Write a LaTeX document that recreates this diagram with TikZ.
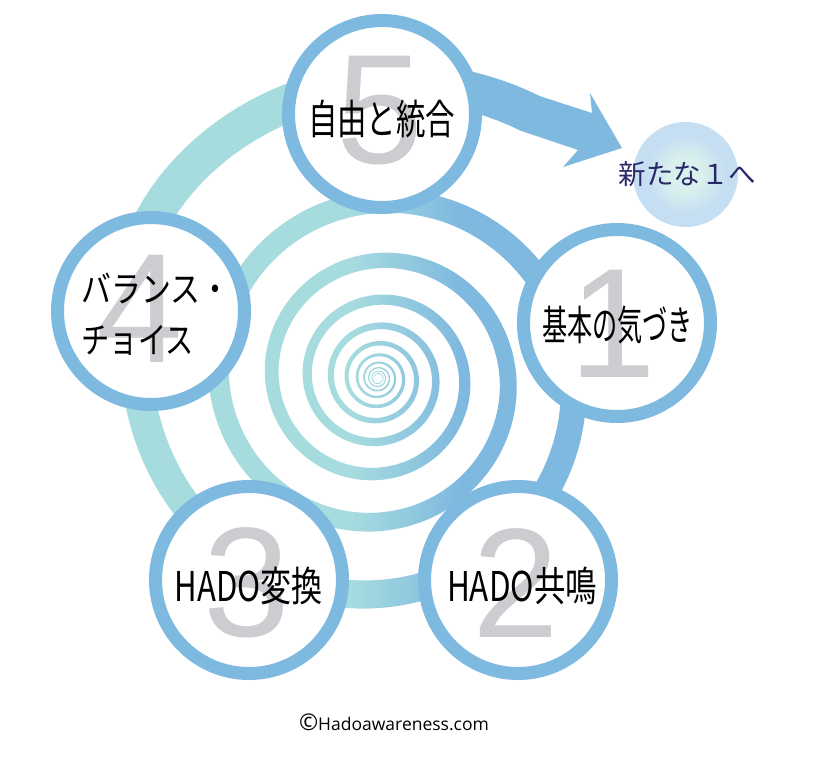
\documentclass[tikz,border=0pt]{standalone}
\usepackage{graphicx}
\usepackage{fontspec}
\setmainfont{Liberation Sans}
\newfontfamily\jpfont{Noto Sans CJK JP}
\newfontfamily\webfont{Open Sans}
\definecolor{ringblue}{HTML}{7EB9DF}
\definecolor{spiralteal}{HTML}{A7DCDF}
\definecolor{spiralblue}{HTML}{7FB9DF}
\definecolor{numgray}{HTML}{CDCCD0}
\definecolor{navy}{HTML}{29296A}
\definecolor{ballmint}{HTML}{D9F0EC}
\definecolor{ballblue}{HTML}{C5DEF2}
\pgfdeclarehorizontalshading{spiralfade}{100bp}{color(0bp)=(spiralteal); color(48bp)=(spiralteal); color(59bp)=(spiralblue); color(100bp)=(spiralblue)}
\pgfdeclareradialshading{ballfade}{\pgfpoint{0bp}{0bp}}{color(0bp)=(ballmint); color(8bp)=(ballmint); color(19bp)=(ballblue); color(50bp)=(ballblue)}
\newcommand\stagetext[2]{\resizebox{#1}{\height}{\jpfont #2}}
\begin{document}
\begin{tikzpicture}[x=1pt,y=-1pt,line join=round,
	declare function={rs(\t)=130*exp(0.0011263*\t)*(1+0.115/(1+exp((556-max(\t,500))/7)));},
	stage/.style={circle,draw=ringblue,line width=13pt,fill=white,minimum size=187pt,inner sep=0},
	stagenum/.style={text=numgray,font=\fontsize{156}{156}\selectfont,inner sep=0},
	stagelbl/.style={inner sep=0,font=\fontsize{41}{51}\selectfont}]
	\useasboundingbox (0,0) rectangle (814,756);
	% spiral with arrow head
	\path (592,113) coordinate (nout) (590,93) coordinate (barbt)
	(622,148) coordinate (tip) (563,167) coordinate (barbb) (578,150) coordinate (nin);
	\begin{scope}[shift={(378,378)}]
	\shade[shading=spiralfade]
	plot[domain=-3090:660,samples=1500,variable=\t] (\t:{rs(\t)*1.065})
	-- (nout) -- (barbt) -- (tip) -- (barbb) -- (nin)
	-- plot[domain=660:-3090,samples=1500,variable=\t] (\t:{rs(\t)*0.935}) -- cycle;
	\end{scope}
	\path (685.5,174.5) node[circle,shade,shading=ballfade,minimum size=105pt,inner sep=0](ball){};
	\path (687.5,174.5) node[text=navy,font=\jpfont\fontsize{27.5}{30}\selectfont,inner sep=0](next){新たな１へ};
	% stages
	\path (617,323) node[stage](s1){}
	(518,580) node[stage](s2){}
	(249,580) node[stage](s3){}
	(151,311) node[stage](s4){}
	(382,114) node[stage](s5){};
	\path (613,324) node[stagenum](n1){1}
	(516,583) node[stagenum](n2){2}
	(247,583) node[stagenum](n3){3}
	(140,309) node[stagenum](n4){4}
	(380,111) node[stagenum](n5){5};
	\path (617.5,325) node[stagelbl](l1){\stagetext{151pt}{基本の気づき}}
	(522,586) node[stagelbl](l2){\stagetext{150pt}{HADO共鳴}}
	(249,586) node[stagelbl](l3){\stagetext{148pt}{HADO変換}}
	(81.5,314) node[stagelbl,anchor=west,align=left,font=\fontsize{36}{51}\selectfont](l4){\stagetext{149pt}{バランス・}\\\stagetext{112pt}{チョイス}}
	(381.5,118.5) node[stagelbl](l5){\stagetext{147pt}{自由と統合}};
	\path (394,722.5) node[inner sep=0,font=\webfont\fontsize{17.5}{20}\selectfont](copy){{\fontsize{23}{23}\selectfont ©}Hadoawareness.com};
\end{tikzpicture}
\end{document}
